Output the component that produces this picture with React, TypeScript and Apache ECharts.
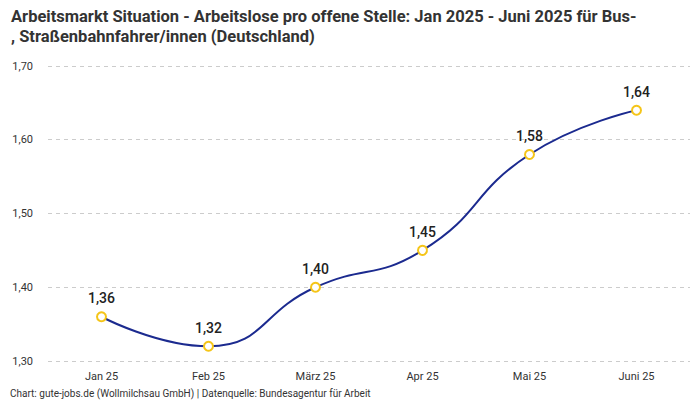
import React, { useEffect, useRef } from "react";
import * as echarts from "echarts";

const categories = ["Jan 25", "Feb 25", "März 25", "Apr 25", "Mai 25", "Juni 25"];
const values = [1.36, 1.32, 1.4, 1.45, 1.58, 1.64];
const titleText =
  "Arbeitsmarkt Situation - Arbeitslose pro offene Stelle: Jan 2025 - Juni 2025 für Bus-\n, Straßenbahnfahrer/innen (Deutschland)";
const footerText = "Chart: gute-jobs.de (Wollmilchsau GmbH) | Datenquelle: Bundesagentur für Arbeit";

const fmt = (v: number) => v.toFixed(2).replace(".", ",");

export default function App() {
  const ref = useRef<HTMLDivElement>(null);
  useEffect(() => {
    if (!ref.current) return;
    const chart = echarts.init(ref.current, undefined, { renderer: "svg" });
    chart.setOption({
      animation: false,
      backgroundColor: "#fff",
      textStyle: { fontFamily: "Roboto, sans-serif" },
      title: {
        text: titleText,
        left: 6,
        top: 1,
        textStyle: {
          fontSize: 16.5,
          fontWeight: "bold",
          color: "#333",
          lineHeight: 20,
          fontFamily: "Roboto, sans-serif",
        },
      },
      graphic: [
        {
          type: "text",
          left: 10,
          top: 388,
          style: {
            text: footerText,
            fontSize: 10,
            fill: "#333",
            fontFamily: "Roboto, sans-serif",
          },
        },
      ],
      grid: { left: 48, right: 10, top: 66, bottom: 39 },
      xAxis: {
        type: "category",
        data: categories,
        boundaryGap: true,
        axisLine: { show: false },
        axisTick: { show: false },
        axisLabel: { color: "#333", fontSize: 11, margin: 10 },
      },
      yAxis: {
        type: "value",
        min: 1.3,
        max: 1.7,
        interval: 0.1,
        axisLabel: {
          color: "#333",
          fontSize: 11,
          formatter: (v: number) => fmt(v),
          margin: 15,
        },
        splitLine: { lineStyle: { type: [4, 4], color: "#ccc" } },
      },
      series: [
        {
          type: "line",
          data: values,
          smooth: true,
          symbol: "emptyCircle",
          symbolSize: 9,
          lineStyle: { color: "#1b2a8f", width: 2 },
          itemStyle: { color: "#f5c518", borderColor: "#f5c518", borderWidth: 2 },
          label: {
            show: true,
            position: "top",
            distance: 6,
            fontSize: 14,
            color: "#222",
            fontWeight: 500,
            formatter: (p: any) => fmt(p.value),
          },
        },
      ],
    });
    return () => chart.dispose();
  }, []);
  return (
    <div
      ref={ref}
      style={{ position: "fixed", left: 0, top: 0, width: 700, height: 400 }}
    />
  );
}
